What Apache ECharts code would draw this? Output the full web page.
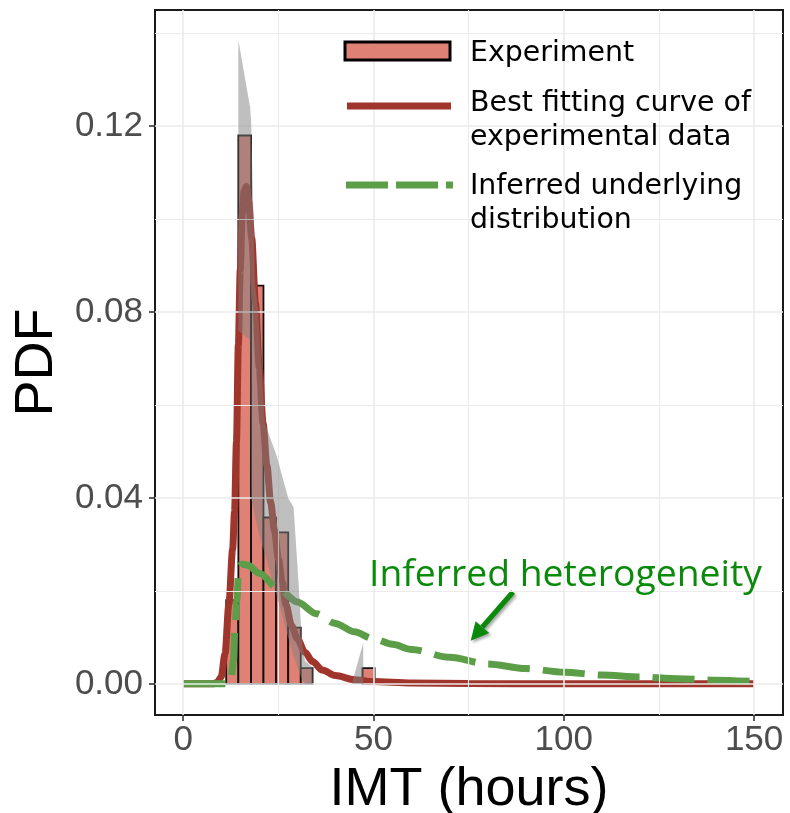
<!DOCTYPE html>
<html>
<head>
<meta charset="utf-8">
<script src="https://cdn.jsdelivr.net/npm/echarts@6.0.0/dist/echarts.min.js"></script>
<style>
html,body{margin:0;padding:0;background:#fff;}
#chart{width:790px;height:813px;}
</style>
</head>
<body>
<div id="chart"></div>
<script>
// ---- tick labels / grid values ----
const xTicks = [0, 50, 100, 150];
const yTicks = [0, 0.04, 0.08, 0.12];
const xGridMinor = [25, 75, 125];
const yGridMinor = [0.02, 0.06, 0.10, 0.14];

// ---- histogram (Experiment) ----
const binStart = [11.3, 14.5, 17.85, 21.1, 24.4, 27.6, 30.9, 47.1];
const binEnd   = [14.5, 17.85, 21.1, 24.4, 27.6, 30.9, 34.0, 50.3];
const binDensity = [0.018, 0.118, 0.0857, 0.0358, 0.0326, 0.0121, 0.0034, 0.0034];

// ---- grey uncertainty band ----
const ribbonX    = [14.5, 17.6, 17.85, 18.9, 19.7, 21.5, 24.6, 27.6, 29.0, 30.3, 31.2, 32.0, 34.0, 34.05, 44.3, 47.3, 47.35];
const ribbonLow  = [0.076, 0.074, 0.040, 0.036, 0.033, 0.028, 0.019, 0.010, 0.006, 0.003, 0.001, 0, 0, 0, 0, 0, 0];
const ribbonHigh = [0.1385, 0.124, 0.121, 0.086, 0.080, 0.056, 0.049, 0.040, 0.038, 0.022, 0.009, 0.005, 0.0035, 0, 0, 0.0088, 0];

// ---- best fitting curve of experimental data ----
const fitX = [0, 8, 9, 10, 11, 12, 13, 13.5, 14, 14.5, 15, 15.5, 16, 16.6, 17.2, 18, 19, 20, 21, 22, 23, 24, 25, 26, 27, 28.5, 30, 32, 34, 36.5, 40, 45, 50, 60, 75, 100, 150];
const fitY = [0, 0, 0.0004, 0.0015, 0.0065, 0.017, 0.029, 0.037, 0.052, 0.073, 0.089, 0.101, 0.106, 0.107, 0.104, 0.096, 0.082, 0.068, 0.056, 0.047, 0.039, 0.033, 0.027, 0.022, 0.017, 0.0125, 0.0097, 0.0068, 0.0048, 0.003, 0.0018, 0.0009, 0.0005, 0.0002, 0.0001, 0, 0];

// ---- inferred underlying distribution ----
const infX = [0, 11.8, 12.6, 13.2, 13.6, 14.1, 14.6, 15.5, 17, 20, 25, 30, 35, 40, 45, 50, 55, 60, 70, 80, 90, 100, 110, 120, 130, 140, 150];
const infY = [0, 0, 0.001, 0.005, 0.012, 0.018, 0.0252, 0.0258, 0.0255, 0.0238, 0.0205, 0.0176, 0.0151, 0.0130, 0.0112, 0.0097, 0.0085, 0.0074, 0.0057, 0.0043, 0.0033, 0.0025, 0.0019, 0.0015, 0.0011, 0.0008, 0.0005];

const C_BAR = '#E08175';
const C_FIT = '#A0352B';
const C_INF = '#5C9E48';
const C_ANN = '#0A8A0A';

const chart = echarts.init(document.getElementById('chart'), null, {renderer: 'canvas'});

const gridLineData = []
  .concat(xTicks.map(v => ({xAxis: v, lineStyle: {width: 1.6}})))
  .concat(xGridMinor.map(v => ({xAxis: v, lineStyle: {width: 1.1}})))
  .concat(yTicks.map(v => ({yAxis: v, lineStyle: {width: 1.6}})))
  .concat(yGridMinor.map(v => ({yAxis: v, lineStyle: {width: 1.1}})));

const tickFont = {fontFamily: 'Liberation Sans', fontSize: 35, color: '#4D4D4D'};
const legendFont = '28.4px "DejaVu Sans"';

const option = {
  animation: false,
  backgroundColor: '#fff',
  grid: {left: 155, right: 7, top: 10, bottom: 98, show: true, borderColor: '#1a1a1a', borderWidth: 2,
    backgroundColor: 'transparent', containLabel: false, outerBoundsMode: 'none'},
  xAxis: {
    type: 'value', min: -7.4, max: 157.6,
    splitLine: {show: false},
    axisLine: {show: false, onZero: false},
    axisTick: {show: true, customValues: xTicks, length: 6, lineStyle: {color: '#333', width: 1.6}},
    axisLabel: Object.assign({customValues: xTicks, margin: 8, formatter: v => String(v)}, tickFont),
    name: 'IMT (hours)', nameLocation: 'middle', nameGap: 39,
    nameTextStyle: {fontFamily: 'Liberation Sans', fontSize: 54, color: '#000'}
  },
  yAxis: {
    type: 'value', min: -0.0067, max: 0.145,
    splitLine: {show: false},
    axisLine: {show: false, onZero: false},
    axisTick: {show: true, customValues: yTicks, length: 6, lineStyle: {color: '#333', width: 1.6}},
    axisLabel: Object.assign({customValues: yTicks, margin: 12, formatter: v => v.toFixed(2)}, tickFont),
    name: 'PDF', nameLocation: 'middle', nameGap: 88, nameRotate: 90,
    nameTextStyle: {fontFamily: 'Liberation Sans', fontSize: 54, color: '#000'}
  },
  series: [
    {
      type: 'line', data: [], z: 0, silent: true,
      markLine: {silent: true, symbol: 'none', label: {show: false}, animation: false,
        lineStyle: {color: '#EBEBEB', type: 'solid'}, data: gridLineData}
    },
    {
      type: 'custom', name: 'Experiment', z: 2,
      data: binStart.map((s, i) => [s, binEnd[i], binDensity[i]]),
      encode: {x: [0, 1], y: 2},
      renderItem: function (params, api) {
        const p0 = api.coord([api.value(0), api.value(2)]);
        const p1 = api.coord([api.value(1), 0]);
        return {type: 'rect', shape: {x: p0[0], y: p0[1], width: p1[0] - p0[0], height: p1[1] - p0[1]},
          style: {fill: C_BAR, stroke: '#111', lineWidth: 1.8}};
      }
    },
    {
      type: 'line', name: 'Best fitting curve of experimental data', z: 3,
      data: fitX.map((x, i) => [x, fitY[i]]),
      showSymbol: false, symbol: 'none', smooth: 0.3, smoothMonotone: 'x',
      lineStyle: {color: C_FIT, width: 7}
    },
    {
      type: 'line', name: 'Inferred underlying distribution', z: 4,
      data: infX.map((x, i) => [x, infY[i]]),
      showSymbol: false, symbol: 'none', smooth: 0.3, smoothMonotone: 'x',
      lineStyle: {color: C_INF, width: 7, type: [42, 13], cap: 'butt'}
    },
    {
      type: 'custom', name: 'band', z: 5, silent: true,
      data: ribbonX.map((x, i) => [x, ribbonLow[i], ribbonHigh[i]]),
      encode: {x: 0, y: [1, 2]},
      renderItem: function (params, api) {
        if (params.dataIndex !== 0) return null;
        const pts = [];
        for (let i = 0; i < ribbonX.length; i++) pts.push(api.coord([ribbonX[i], ribbonHigh[i]]));
        for (let i = ribbonX.length - 1; i >= 0; i--) pts.push(api.coord([ribbonX[i], ribbonLow[i]]));
        return {type: 'polygon', shape: {points: pts}, style: {fill: 'rgba(128,128,128,0.5)'}};
      }
    }
  ],
  graphic: [
    // legend
    {type: 'rect', shape: {x: 345, y: 42, width: 105, height: 18}, style: {fill: C_BAR, stroke: '#000', lineWidth: 3}, z: 10},
    {type: 'line', shape: {x1: 347, y1: 106, x2: 451, y2: 106}, style: {stroke: C_FIT, lineWidth: 7}, z: 10},
    {type: 'line', shape: {x1: 346, y1: 185, x2: 453, y2: 185}, style: {stroke: C_INF, lineWidth: 7, lineDash: [42, 8]}, z: 10},
    {type: 'text', x: 470, y: 54, style: {text: 'Experiment', font: legendFont, fill: '#000', verticalAlign: 'middle'}, z: 10},
    {type: 'text', x: 470, y: 104, style: {text: 'Best fitting curve of', font: legendFont, fill: '#000', verticalAlign: 'middle'}, z: 10},
    {type: 'text', x: 470, y: 138, style: {text: 'experimental data', font: legendFont, fill: '#000', verticalAlign: 'middle'}, z: 10},
    {type: 'text', x: 470, y: 187, style: {text: 'Inferred underlying', font: legendFont, fill: '#000', verticalAlign: 'middle'}, z: 10},
    {type: 'text', x: 470, y: 221, style: {text: 'distribution', font: legendFont, fill: '#000', verticalAlign: 'middle'}, z: 10},
    // annotation
    {type: 'text', x: 369, y: 575, style: {text: 'Inferred heterogeneity', font: '37.3px "Open Sans"', fill: C_ANN, verticalAlign: 'middle'}, z: 10},
    {type: 'group', z: 10, children: [
      {type: 'line', shape: {x1: 513, y1: 592, x2: 482.4, y2: 627}, style: {stroke: C_ANN, lineWidth: 5, shadowBlur: 3, shadowOffsetX: 2, shadowOffsetY: 2, shadowColor: 'rgba(0,0,0,0.35)'}},
      {type: 'polygon', shape: {points: [[470.7, 640.7], [489.2, 632.9], [475.6, 621.2]]}, style: {fill: C_ANN, shadowBlur: 3, shadowOffsetX: 2, shadowOffsetY: 2, shadowColor: 'rgba(0,0,0,0.35)'}}
    ]}
  ]
};
chart.setOption(option);
</script>
</body>
</html>
